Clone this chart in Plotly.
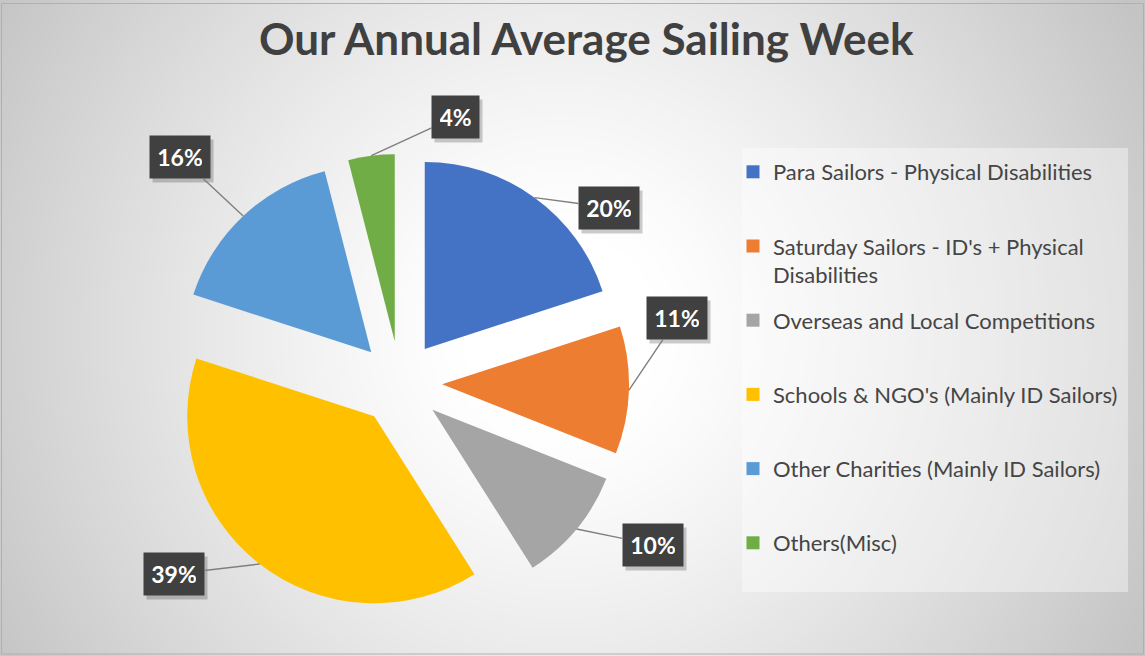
import base64
import struct
import zlib

import numpy as np
import plotly.graph_objects as go

# ---------------- data ----------------
categories = [
    "Para Sailors - Physical Disabilities",
    "Saturday Sailors - ID's + Physical Disabilities",
    "Overseas and Local Competitions",
    "Schools & NGO's (Mainly ID Sailors)",
    "Other Charities (Mainly ID Sailors)",
    "Others(Misc)",
]
legend_labels = [
    "Para Sailors - Physical Disabilities",
    "Saturday Sailors - ID's + Physical<br>Disabilities",
    "Overseas and Local Competitions",
    "Schools & NGO's (Mainly ID Sailors)",
    "Other Charities (Mainly ID Sailors)",
    "Others(Misc)",
]
values = [20, 11, 10, 39, 16, 4]
colors = ["#4472C4", "#ED7D31", "#A5A5A5", "#FFC000", "#5B9BD5", "#70AD47"]
title_text = "Our Annual Average Sailing Week"

# ---------------- layout / style ----------------
W, H = 1145, 656
PIE_CX, PIE_CY = 400, 383      # pie centre, px
PIE_R = 187                    # pie radius, px
PULL = 0.225                   # explode fraction
LABEL_NUDGE = [14, -15, -7, 12, -1, 19]        # deg shift of label from slice middle
LABEL_DIST = [273, 285, 300, 296, 315, 272]    # px from pie centre
LABEL_FONT = dict(family="Lato", size=23, color="white", weight="bold")
LEGEND_FS = 22


def gray_png_uri(arr):
    h, w = arr.shape
    raw = b"".join(b"\x00" + arr[r].astype(np.uint8).tobytes() for r in range(h))

    def chunk(t, d):
        c = struct.pack(">I", len(d)) + t + d
        return c + struct.pack(">I", zlib.crc32(t + d) & 0xFFFFFFFF)

    ihdr = struct.pack(">IIBBBBB", w, h, 8, 0, 0, 0, 0)
    png = (b"\x89PNG\r\n\x1a\n" + chunk(b"IHDR", ihdr)
           + chunk(b"IDAT", zlib.compress(raw, 9)) + chunk(b"IEND", b""))
    return "data:image/png;base64," + base64.b64encode(png).decode()


# radial grey background
yy, xx = np.mgrid[0:H, 0:W]
d = np.sqrt((xx - 560.0) ** 2 + (yy - 330.0) ** 2) / 660.0
t = np.clip((d - 0.15) / 0.85, 0, 1) ** 1.2
bg = 255 - 59 * t
bg_uri = gray_png_uri(bg)

# ---------------- figure ----------------
fig = go.Figure()

half = PIE_R * (1 + PULL)
dom_x = [(PIE_CX - half) / W, (PIE_CX + half) / W]
dom_y = [(H - PIE_CY - half) / H, (H - PIE_CY + half) / H]

fig.add_trace(go.Pie(
    labels=categories, values=values, sort=False, direction="clockwise",
    rotation=0, pull=[PULL] * len(values),
    marker=dict(colors=colors, line=dict(width=0)),
    textinfo="none", showlegend=False, hoverinfo="label+percent",
    domain=dict(x=dom_x, y=dom_y),
))

for i, (lab, col) in enumerate(zip(legend_labels, colors)):
    txt = lab if "<br>" in lab else lab + "<br> "
    fig.add_trace(go.Scatter(
        x=[None], y=[None], mode="markers", name=txt,
        marker=dict(symbol="square", size=13, color=col),
        legendgroup=f"g{i}", showlegend=True, hoverinfo="skip",
    ))

# data labels with leader lines
total = float(sum(values))
cum = np.cumsum(values)
annotations = []
shadows = []
for i, v in enumerate(values):
    mid = (cum[i] - v / 2) / total * 2 * np.pi
    dx, dy = np.sin(mid), -np.cos(mid)
    sx = PIE_CX + PULL * PIE_R * dx
    sy = PIE_CY + PULL * PIE_R * dy
    axp, ayp = sx + PIE_R * dx, sy + PIE_R * dy
    la = mid + np.deg2rad(LABEL_NUDGE[i])
    lx = PIE_CX + LABEL_DIST[i] * np.sin(la)
    ly = PIE_CY - LABEL_DIST[i] * np.cos(la)
    pct = f"{round(v / total * 100)}%"
    box_w = 13 * (len(pct) - 1) + 18
    box_h = 26
    shadows.append(dict(
        x=lx / W, y=1 - ly / H, xref="paper", yref="paper", showarrow=False,
        xanchor="center", yanchor="middle", text=" ",
        width=box_w, height=box_h,
        bgcolor="rgba(0,0,0,0.2)", borderpad=8, xshift=3, yshift=-4,
    ))
    annotations.append(dict(
        x=axp / W, y=1 - ayp / H, xref="paper", yref="paper",
        ax=lx - axp, ay=ly - ayp, showarrow=True, arrowhead=0,
        arrowwidth=1.4, arrowcolor="#7f7f7f", width=box_w, height=box_h,
        text=pct, font=LABEL_FONT, bgcolor="#404040", borderpad=8,
    ))

fig.update_layout(
    width=W, height=H,
    margin=dict(l=0, r=0, t=0, b=0),
    paper_bgcolor="white", plot_bgcolor="rgba(0,0,0,0)",
    xaxis=dict(visible=False), yaxis=dict(visible=False),
    title=dict(text=title_text, x=0.512, y=1 - 40 / H, xanchor="center",
               yanchor="middle",
               font=dict(family="Lato", size=44, color="#404040", weight="bold")),
    legend=dict(x=733 / W, y=1 - 151 / H, xanchor="left", yanchor="top",
                valign="top", tracegroupgap=14, bgcolor="rgba(0,0,0,0)",
                font=dict(family="Lato", size=LEGEND_FS, color="#454545"),
                traceorder="grouped"),
    images=[dict(source=bg_uri, xref="paper", yref="paper", x=0, y=1,
                 sizex=1, sizey=1, sizing="stretch", layer="below")],
    shapes=[
        dict(type="rect", xref="paper", yref="paper",
             x0=742 / W, x1=1128 / W, y0=1 - 592 / H, y1=1 - 148 / H,
             fillcolor="rgba(255,255,255,0.4)", line=dict(width=0), layer="below"),
        dict(type="rect", xref="paper", yref="paper",
             x0=1.5 / W, x1=1 - 1.5 / W, y0=2 / H, y1=1 - 3.5 / H,
             line=dict(color="#b0b0b0", width=1), fillcolor="rgba(0,0,0,0)"),
    ],
    annotations=shadows + annotations,
)

fig.write_html("out.html", config={"displayModeBar": False},
               post_script="document.body.style.margin='0';")
